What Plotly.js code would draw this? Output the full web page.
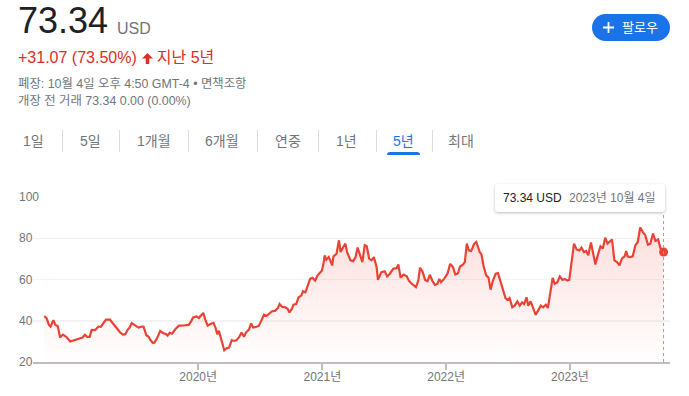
<!DOCTYPE html>
<html>
<head>
<meta charset="utf-8">
<script src="https://cdn.plot.ly/plotly-3.0.1.min.js"></script>
<style>
  html, body { margin:0; padding:0; background:#fff; }
  body { width:689px; height:396px; position:relative; overflow:hidden;
         font-family:"Liberation Sans", Arial, "Noto Sans CJK KR", sans-serif; }
  #chart { position:absolute; left:0; top:0; width:689px; height:396px; }
  .abs { position:absolute; white-space:nowrap; }
  .price { left:18px; top:3px; font-size:36px; line-height:36px; color:#202124; }
  .cur { left:117px; top:21px; font-size:16px; line-height:16px; color:#70757a; }
  .chg { left:18px; top:50px; font-size:16px; line-height:16px; color:#d93025; }
  .meta { left:18px; font-size:12.4px; line-height:12px; color:#70757a; }
  .follow { left:592px; top:14px; width:78px; height:27px; border-radius:14px; background:#1a73e8;
            color:#fff; font-size:13px; line-height:27px; }
  .tab { top:134px; font-size:14px; line-height:14px; color:#70757a; }
  .sep { top:130px; width:1px; height:22px; background:#dadce0; }
  .tip { left:495px; top:184px; width:170px; height:28px; background:#fff; border-radius:3px;
         box-shadow:0 1px 3px rgba(60,64,67,0.35); font-size:12px; line-height:28px; z-index:5; }
</style>
</head>
<body>
<div id="chart"></div>

<div class="abs price">73.34</div>
<div class="abs cur">USD</div>
<div class="abs chg">+31.07 (73.50%)<svg width="11" height="11" viewBox="0 0 10 10" style="margin:0 4px 0 5px;vertical-align:-1px"><path d="M5 0 L10 5 L6.6 5 L6.6 10 L3.4 10 L3.4 5 L0 5 Z" fill="#d93025"/></svg>지난 5년</div>
<div class="abs meta" style="top:78px">폐장: 10월 4일 오후 4:50 GMT-4 • 면책조항</div>
<div class="abs meta" style="top:95px">개장 전 거래 73.34 0.00 (0.00%)</div>

<div class="abs follow"><svg width="11" height="11" viewBox="0 0 10 10" style="position:absolute;left:11px;top:8px"><path d="M4.2 0h1.6v4.2H10v1.6H5.8V10H4.2V5.8H0V4.2h4.2z" fill="#fff"/></svg><span style="position:absolute;left:30px;top:0">팔로우</span></div>

<div class="abs tab" style="left:23px">1일</div>
<div class="abs sep" style="left:62px"></div>
<div class="abs tab" style="left:80px">5일</div>
<div class="abs sep" style="left:119px"></div>
<div class="abs tab" style="left:137px">1개월</div>
<div class="abs sep" style="left:188px"></div>
<div class="abs tab" style="left:205px">6개월</div>
<div class="abs sep" style="left:257px"></div>
<div class="abs tab" style="left:275px">연중</div>
<div class="abs sep" style="left:318px"></div>
<div class="abs tab" style="left:336px">1년</div>
<div class="abs sep" style="left:376px"></div>
<div class="abs tab" style="left:393px;color:#1a73e8">5년</div>
<div class="abs" style="left:387px;top:152px;width:33px;height:3px;background:#1a73e8;border-radius:3px 3px 0 0"></div>
<div class="abs sep" style="left:432px"></div>
<div class="abs tab" style="left:448px">최대</div>

<div class="abs tip"><span style="position:absolute;left:8px;color:#202124">73.34 USD</span><span style="position:absolute;left:74px;color:#70757a">2023년 10월 4일</span></div>

<script>
const dates = [
'2018-10-04','2018-10-11','2018-10-18','2018-10-23','2018-10-31','2018-11-06','2018-11-13','2018-11-20','2018-11-28','2018-12-08','2018-12-20',
'2019-01-02','2019-01-15','2019-01-25','2019-02-01','2019-02-08','2019-02-15','2019-02-21','2019-03-03','2019-03-13','2019-03-20','2019-03-28','2019-04-04','2019-04-16','2019-04-26','2019-05-06','2019-05-16','2019-05-24','2019-05-31','2019-06-07','2019-06-13','2019-06-19','2019-06-29','2019-07-09','2019-07-19','2019-07-24','2019-08-01','2019-08-08','2019-08-13','2019-08-20','2019-08-25','2019-09-02','2019-09-11','2019-09-19','2019-09-29','2019-10-03','2019-10-09','2019-10-16','2019-10-26','2019-11-05','2019-11-19','2019-12-04','2019-12-11','2019-12-17','2019-12-27',
'2020-01-03','2020-01-08','2020-01-16','2020-01-23','2020-01-29','2020-02-06','2020-02-15','2020-02-21','2020-02-26','2020-03-02','2020-03-08','2020-03-15','2020-03-18','2020-03-25','2020-04-01','2020-04-09','2020-04-16','2020-04-23','2020-04-30','2020-05-08','2020-05-15','2020-05-21','2020-05-30','2020-06-05','2020-06-11','2020-06-21','2020-06-28','2020-07-06','2020-07-13','2020-07-21','2020-07-28','2020-08-05','2020-08-15','2020-08-23','2020-08-28','2020-09-04','2020-09-14','2020-09-21','2020-09-26','2020-10-03','2020-10-08','2020-10-16','2020-10-23','2020-10-31','2020-11-05','2020-11-12','2020-11-18','2020-11-26','2020-12-03','2020-12-11','2020-12-18','2020-12-26','2020-12-31',
'2021-01-05','2021-01-08','2021-01-13','2021-01-20','2021-01-25','2021-01-30','2021-02-03','2021-02-06','2021-02-12','2021-02-19','2021-02-24','2021-03-03','2021-03-10','2021-03-15','2021-03-25','2021-04-02','2021-04-09','2021-04-15','2021-04-21','2021-04-29','2021-05-06','2021-05-12','2021-05-19','2021-05-26','2021-06-02','2021-06-10','2021-06-14','2021-06-24','2021-07-04','2021-07-11','2021-07-19','2021-07-29','2021-08-08','2021-08-13','2021-08-20','2021-08-28','2021-09-07','2021-09-14','2021-09-24','2021-10-04','2021-10-11','2021-10-16','2021-10-24','2021-10-31','2021-11-07','2021-11-14','2021-11-21','2021-11-29','2021-12-06','2021-12-12','2021-12-17','2021-12-26',
'2022-01-05','2022-01-13','2022-01-21','2022-01-28','2022-02-05','2022-02-11','2022-02-20','2022-02-25','2022-03-03','2022-03-09','2022-03-16','2022-03-24','2022-03-31','2022-04-10','2022-04-15','2022-04-21','2022-04-29','2022-05-06','2022-05-12','2022-05-19','2022-05-27','2022-06-03','2022-06-10','2022-06-18','2022-06-25','2022-07-01','2022-07-07','2022-07-15','2022-07-22','2022-07-30','2022-08-06','2022-08-13','2022-08-19','2022-08-26','2022-08-31','2022-09-07','2022-09-14','2022-09-22','2022-09-29','2022-10-07','2022-10-14','2022-10-22','2022-10-28','2022-11-06','2022-11-11','2022-11-17','2022-11-25','2022-12-02','2022-12-10','2022-12-17','2022-12-24','2022-12-30',
'2023-01-06','2023-01-13','2023-01-21','2023-01-29','2023-02-04','2023-02-11','2023-02-18','2023-02-24','2023-03-04','2023-03-11','2023-03-17','2023-03-24','2023-04-01','2023-04-08','2023-04-15','2023-04-22','2023-04-29','2023-05-05','2023-05-12','2023-05-20','2023-05-27','2023-06-03','2023-06-11','2023-06-16','2023-06-20','2023-06-27','2023-07-05','2023-07-13','2023-07-20','2023-07-27','2023-08-04','2023-08-11','2023-08-19','2023-08-26','2023-09-03','2023-09-10','2023-09-18','2023-09-25','2023-09-30','2023-10-04'
];
const prices = [
42.27,41.3,38.0,37.2,40.3,38.0,37.4,31.9,33.3,32.2,29.9,
30.6,31.6,31.9,33.2,32.2,32.2,35.6,35.5,37.2,37.1,39.2,40.5,40.5,38.4,36.0,34.3,33.3,33.5,35.6,36.7,38.9,38.0,36.7,37.2,37.1,33.0,32.2,30.7,29.3,29.4,31.6,35.1,34.1,33.5,32.8,34.1,33.7,36.0,37.6,37.7,38.0,39.7,41.6,42.1,
41.3,42.3,43.8,40.0,37.6,38.4,39.0,36.7,33.5,35.1,31.9,27.8,25.7,26.7,27.0,30.6,30.2,30.6,31.9,34.3,32.2,34.3,35.8,38.7,36.7,37.1,37.6,40.3,42.9,42.4,43.3,44.5,44.9,46.2,48.1,46.8,46.5,45.7,44.0,45.7,47.8,48.1,51.4,52.2,54.3,53.8,56.6,60.3,60.8,59.5,62.0,63.6,64.4,
68.4,71.7,69.6,70.9,68.9,66.8,71.2,71.7,72.5,79.0,73.3,75.5,77.4,73.3,69.3,68.9,70.9,75.5,72.5,68.4,76.6,76.1,70.1,69.3,70.9,66.0,59.8,63.6,64.0,61.5,62.8,65.2,65.5,67.3,60.8,62.4,61.5,59.2,57.6,56.3,59.5,65.7,63.6,59.8,59.2,62.3,59.5,57.4,57.9,60.3,58.7,60.3,
62.8,67.6,66.0,62.4,63.0,66.3,67.3,68.4,77.4,74.1,73.8,77.1,78.2,73.3,72.2,66.8,62.0,60.8,55.1,59.5,62.8,63.1,59.2,54.6,51.0,50.1,51.0,46.5,47.3,49.4,47.3,48.9,48.1,51.4,47.3,49.4,46.5,42.9,44.9,47.3,46.5,47.8,46.2,56.3,60.8,57.9,58.7,61.5,59.8,60.3,59.5,59.8,
69.3,77.4,74.5,74.1,75.5,73.3,73.8,71.7,77.9,72.2,67.3,71.7,76.1,75.0,80.3,77.4,78.7,79.4,69.3,68.4,66.8,70.1,71.2,73.8,71.2,70.9,71.2,76.6,78.2,85.2,83.0,81.5,76.9,77.4,82.3,78.7,79.4,75.0,74.5,73.34
];
const yTickVals = [20, 40, 60, 80, 100];
const xTickVals = ['2020-01-01', '2021-01-01', '2022-01-01', '2023-01-01'];
const xTickText = ['2020년', '2021년', '2022년', '2023년'];

const RED = '#ea4335';
const FONT = '"Liberation Sans", Arial, "Noto Sans CJK KR", sans-serif';
const lastX = dates[dates.length - 1];
const lastY = prices[prices.length - 1];

const traces = [
  {
    x: dates, y: prices, type: 'scatter', mode: 'lines',
    line: { color: RED, width: 2.2 },
    fill: 'tozeroy',
    fillgradient: { type: 'vertical', start: 20, stop: 85,
      colorscale: [[0, 'rgba(234,67,53,0)'], [1, 'rgba(234,67,53,0.17)']] },
    hoverinfo: 'skip'
  },
  {
    x: [lastX], y: [lastY], type: 'scatter', mode: 'markers',
    marker: { color: RED, size: 9 }, hoverinfo: 'skip'
  }
];

const layout = {
  width: 689, height: 396,
  margin: { l: 18, r: 19, t: 197, b: 34 },
  paper_bgcolor: 'rgba(0,0,0,0)', plot_bgcolor: 'rgba(0,0,0,0)',
  showlegend: false,
  font: { family: FONT, size: 12, color: '#70757a' },
  xaxis: {
    type: 'date', domain: [15 / 652, 1],
    range: ['2018-09-01', '2023-10-23'],
    tickvals: xTickVals, ticktext: xTickText,
    showgrid: false, zeroline: false,
    showline: true, linecolor: '#bdbdbd', linewidth: 2,
    ticks: 'outside', ticklen: 6, tickwidth: 2, tickcolor: '#bdbdbd',
    ticklabelstandoff: -3,
    tickfont: { family: FONT, size: 12, color: '#70757a' }
  },
  yaxis: {
    anchor: 'free', position: 0,
    range: [20, 100], tickvals: yTickVals,
    ticklabelposition: 'inside', ticklabeloverflow: 'allow',
    ticklabelstandoff: -3,
    ticks: '', showline: false, zeroline: false,
    showgrid: true, gridcolor: '#f3f3f3', gridwidth: 1.5,
    tickfont: { family: FONT, size: 12, color: '#70757a' }
  },
  shapes: [{
    type: 'line', xref: 'x', yref: 'paper',
    x0: lastX, x1: lastX, y0: 0, y1: 0.907,
    line: { color: '#9aa0a6', width: 1, dash: 'dot' }
  }]
};

Plotly.newPlot('chart', traces, layout, { staticPlot: true, displayModeBar: false });
</script>
</body>
</html>
